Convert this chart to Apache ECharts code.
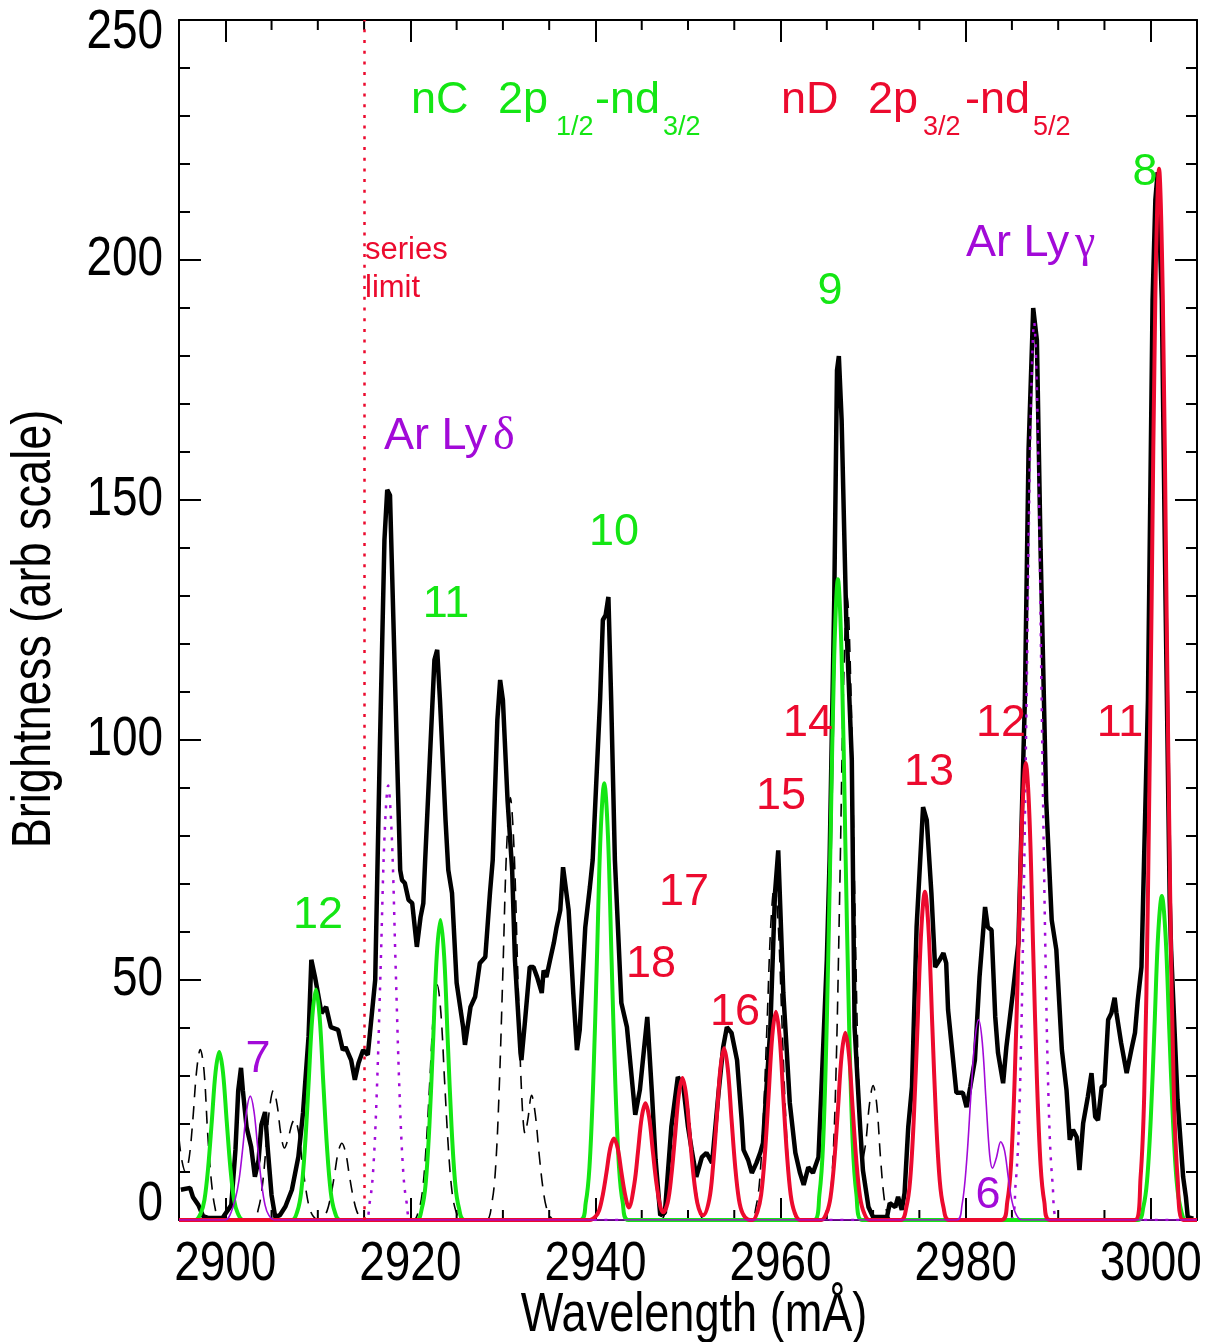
<!DOCTYPE html>
<html>
<head>
<meta charset="utf-8">
<script src="https://cdn.jsdelivr.net/npm/echarts@6/dist/echarts.min.js"></script>
<style>
  html, body { margin: 0; padding: 0; background: #fff; }
  #chart { width: 1205px; height: 1342px; }
</style>
</head>
<body>
<div id="chart"></div>
<script>
// x axis tick values (mÅ)
const majorTicksX = [2900, 2920, 2940, 2960, 2980, 3000]
const minorTicksX = [2905, 2910, 2915, 2925, 2930, 2935, 2945, 2950, 2955, 2965, 2970, 2975,
  2985, 2990, 2995]
// y axis tick labels
const ticksY = [0, 50, 100, 150, 200, 250]
// series limit wavelength
const seriesLimit = 2915

// measured spectrum (black)
const measured = [
  [2895.2, 6.3], [2896.2, 6.7], [2896.5, 4.8], [2897.1, 3.1], [2897.6, 0.8], [2898.2, 0.4], [2899.7, 0.4],
  [2900.65, 3.1], [2901.1, 14.6], [2901.4, 27], [2901.7, 31.7], [2901.9, 27], [2902.3, 19.4], [2902.8, 15.2],
  [2903.2, 9], [2903.6, 12.5], [2903.9, 19.8], [2904.3, 22.5], [2904.6, 14.6], [2905.0, 5.2], [2905.4, 0.6],
  [2905.9, 1], [2906.5, 2.8], [2907.2, 6.3], [2907.9, 13.2], [2908.4, 22.3], [2909.0, 38.2], [2909.3, 54.2],
  [2909.7, 50.6], [2910.4, 43.1], [2910.9, 44.4], [2911.4, 40.2], [2912.2, 39.6], [2912.7, 35.4], [2913.0, 36],
  [2913.6, 33.3], [2914.0, 29.2], [2914.4, 32.7], [2914.9, 35.4], [2915.4, 34.4], [2916.2, 50], [2916.7, 97.9],
  [2917.2, 141.7], [2917.5, 152.1], [2917.8, 151], [2918.4, 108.3], [2918.9, 72.9], [2919.1, 70.8], [2919.4, 70.2],
  [2919.8, 66.7], [2920.2, 66], [2920.7, 56.9], [2921.1, 63.1], [2921.4, 66], [2921.6, 75], [2922.1, 95.8],
  [2922.6, 116.7], [2922.9, 118.8], [2923.2, 108.3], [2923.8, 83.3], [2924.1, 72.9], [2924.5, 68.1], [2925.0, 49.4],
  [2925.7, 40.2], [2925.9, 36.5], [2926.5, 44.4], [2927.0, 46.5], [2927.5, 53.5], [2928.1, 54.8], [2928.6, 68.1],
  [2928.9, 75], [2929.4, 104.2], [2929.7, 112.5], [2930.0, 108.3], [2930.5, 87.5], [2931.0, 72.9], [2931.3, 54.2],
  [2931.9, 34.8], [2932.0, 33.3], [2932.4, 41.7], [2932.9, 52.7], [2933.3, 52.7], [2933.7, 50.6], [2934.2, 47.3],
  [2934.4, 52], [2934.7, 50.6], [2935.1, 54.2], [2935.5, 57.7], [2935.8, 61], [2936.2, 64.6], [2936.5, 73.5],
  [2937.1, 64.6], [2937.6, 47.3], [2938.0, 35.4], [2938.3, 39.6], [2938.9, 61], [2939.4, 69.4], [2939.7, 75],
  [2940.5, 108.3], [2940.8, 125], [2941.1, 126], [2941.4, 129.8], [2941.7, 108.3], [2942.1, 75], [2942.8, 45.2],
  [2943.4, 40.2], [2944.3, 21.9], [2944.8, 27.1], [2945.6, 42.3], [2946.1, 26.5], [2946.5, 12.5], [2947.0, 1],
  [2947.5, 1.5], [2948.2, 19.4], [2948.9, 29.8], [2949.5, 27.7], [2950.0, 19.4], [2950.4, 14.6], [2950.9, 9],
  [2951.5, 13.1], [2952.0, 14], [2952.6, 11.9], [2953.3, 26.5], [2953.8, 36], [2954.2, 40.2], [2954.7, 39],
  [2955.3, 33.3], [2955.8, 20.8], [2956.0, 14.6], [2956.5, 12.5], [2956.9, 9.8], [2957.4, 11.9], [2957.8, 14],
  [2958.1, 16], [2958.9, 40.2], [2959.4, 68.1], [2959.75, 77], [2960.3, 47.3], [2961.0, 24.4], [2961.6, 14],
  [2962.1, 9.8], [2962.5, 7.3], [2963.0, 11], [2963.5, 9.8], [2964.1, 13.1], [2964.4, 26.5], [2965.0, 54.2],
  [2965.3, 75], [2965.8, 129], [2966.1, 177], [2966.3, 180], [2966.6, 166.7], [2967.1, 125], [2967.7, 95.8],
  [2968.0, 40.2], [2968.6, 19.4], [2968.9, 10.4], [2969.5, 2.7], [2970.0, 0.6], [2971.5, 0.6], [2971.8, 3.5],
  [2972.4, 2.7], [2972.7, 4.8], [2973.1, 2.1], [2973.4, 5.6], [2973.8, 19.4], [2974.2, 27.7], [2974.7, 61],
  [2975.4, 86], [2975.8, 83.3], [2976.3, 68.1], [2976.7, 52.7], [2977.2, 54.2], [2977.6, 55.6], [2977.9, 53.5],
  [2978.1, 43.8], [2978.65, 33.3], [2979.0, 26.5], [2979.7, 26.5], [2980.1, 23.5], [2980.5, 27.7], [2981.0, 33.3],
  [2981.5, 50.6], [2982.1, 65.2], [2982.4, 61], [2982.8, 60.4], [2983.2, 42.3], [2983.5, 34.8], [2984.05, 28.5],
  [2984.4, 36], [2985.1, 47.3], [2985.7, 57.7], [2986.4, 108.3], [2986.8, 160.4], [2987.3, 190], [2987.7, 183.3],
  [2988.1, 139.6], [2988.7, 87.5], [2989.3, 62.5], [2989.8, 56.3], [2990.4, 35.4], [2990.9, 27.1], [2991.25, 16.7],
  [2991.6, 18.8], [2992.0, 17.3], [2992.3, 10.4], [2992.7, 20.2], [2993.2, 25.6], [2993.6, 30.6], [2994.0, 21.5],
  [2994.3, 20.8], [2994.7, 27.7], [2995.0, 28.1], [2995.4, 41.7], [2995.75, 43.1], [2996.1, 46.3], [2996.3, 43.1],
  [2996.8, 36.9], [2997.4, 30.6], [2997.9, 35.4], [2998.3, 39], [2998.6, 45.8], [2999.0, 52.7], [2999.7, 108.3],
  [3000.2, 191.7], [3000.5, 212.5], [3000.75, 218.3], [3001.2, 191.7], [3001.6, 129.2], [3002.05, 66.7],
  [3002.2, 56.3], [3002.9, 25], [3003.5, 9], [3003.8, 4.8], [3004.0, 0.6], [3004.6, 0.3]
]

// nC 2p1/2-nd3/2 model lines (green)
const nCLines = [
  [2895, 0], [2896.75, 0], [2897.35, 1.4], [2897.75, 4.2], [2898.15, 10.9], [2898.55, 20.7], [2898.95, 30.8],
  [2899.35, 35], [2899.75, 30.8], [2900.15, 20.7], [2900.55, 10.9], [2900.95, 4.2], [2901.35, 1.4], [2901.95, 0],
  [2907.2, 0], [2907.8, 1.9], [2908.2, 5.8], [2908.6, 14.9], [2909.0, 28.3], [2909.4, 42.2], [2909.8, 48],
  [2910.2, 42.2], [2910.6, 28.3], [2911.0, 14.9], [2911.4, 5.8], [2911.8, 1.9], [2912.4, 0],
  [2920.65, 0], [2921.25, 2.5], [2921.65, 7.5], [2922.05, 19.4], [2922.45, 36.9], [2922.85, 55], [2923.25, 62.5],
  [2923.65, 55], [2924.05, 36.9], [2924.45, 19.4], [2924.85, 7.5], [2925.25, 2.5], [2925.85, 0],
  [2938.35, 0], [2938.95, 3.6], [2939.35, 10.9], [2939.75, 28.2], [2940.15, 53.7], [2940.55, 80.1], [2940.95, 91],
  [2941.35, 80.1], [2941.75, 53.7], [2942.15, 28.2], [2942.55, 10.9], [2942.95, 3.6], [2943.55, 0],
  [2963.6, 0], [2964.2, 5.3], [2964.6, 16], [2965.0, 41.4], [2965.4, 78.8], [2965.8, 117.5], [2966.2, 133.5],
  [2966.6, 117.5], [2967.0, 78.8], [2967.4, 41.4], [2967.8, 16], [2968.2, 5.3], [2968.8, 0],
  [2998.6, 0], [2999.2, 2.7], [2999.6, 8.1], [3000.0, 20.9], [3000.4, 39.8], [3000.8, 59.4], [3001.2, 67.5],
  [3001.6, 59.4], [3002.0, 39.8], [3002.4, 20.9], [3002.8, 8.1], [3003.2, 2.7], [3003.8, 0], [3005, 0]
]

// nD 2p3/2-nd5/2 model lines (red)
const nDLines = [
  [2895, 0], [2939.4, 0], [2940.0, 0.7], [2940.4, 2], [2940.8, 5.3], [2941.2, 10], [2941.6, 15], [2942.0, 17],
  [2942.4, 15], [2942.8, 10], [2943.2, 5.3], [2943.6, 2.6], [2944.2, 7.5], [2944.6, 14.3], [2945.0, 21.4],
  [2945.4, 24.3], [2945.8, 21.4], [2946.2, 14.3], [2946.6, 7.5], [2947.0, 2.9], [2947.3, 1.6], [2947.8, 3.6],
  [2948.2, 9.2], [2948.6, 17.5], [2949.0, 26], [2949.4, 29.6], [2949.8, 26], [2950.2, 17.5], [2950.6, 9.2],
  [2951.0, 3.6], [2951.4, 1.2], [2951.65, 1.0], [2952.3, 4.3], [2952.7, 11.1], [2953.1, 21.1], [2953.5, 31.5],
  [2953.9, 35.8], [2954.3, 31.5], [2954.7, 21.1], [2955.1, 11.1], [2955.5, 4.3], [2955.9, 1.4], [2956.5, 0.1],
  [2957.0, 0], [2957.5, 1.7], [2957.9, 5.2], [2958.3, 13.5], [2958.7, 25.6], [2959.1, 38.2], [2959.5, 43.4],
  [2959.9, 38.2], [2960.3, 25.6], [2960.7, 13.5], [2961.1, 5.2], [2961.5, 1.7], [2962.1, 0],
  [2964.4, 0], [2965.0, 1.6], [2965.4, 4.7], [2965.8, 12.1], [2966.2, 23], [2966.6, 34.3], [2967.0, 39],
  [2967.4, 34.3], [2967.8, 23], [2968.2, 12.1], [2968.6, 4.7], [2969.0, 1.6], [2969.6, 0],
  [2973.0, 0], [2973.6, 2.7], [2974.0, 8.2], [2974.4, 21.2], [2974.8, 40.4], [2975.2, 60.2], [2975.6, 68.4],
  [2976.0, 60.2], [2976.4, 40.4], [2976.8, 21.2], [2977.2, 8.2], [2977.6, 2.7], [2978.2, 0],
  [2983.9, 0], [2984.5, 3.8], [2984.9, 11.4], [2985.3, 29.5], [2985.7, 56.2], [2986.1, 83.8], [2986.5, 95.2],
  [2986.9, 83.8], [2987.3, 56.2], [2987.7, 29.5], [2988.1, 11.4], [2988.5, 3.8], [2989.1, 0],
  [2998.3, 0], [2998.9, 8.8], [2999.3, 26.3], [2999.7, 67.9], [3000.1, 129.2], [3000.5, 192.7], [3000.9, 219],
  [3001.3, 192.7], [3001.7, 129.2], [3002.1, 67.9], [3002.5, 26.3], [3002.9, 8.8], [3003.5, 0], [3005, 0]
]

// Ar n=6,7 lines (purple, thin)
const arHighN = [
  [2895, 0], [2900.0, 0], [2900.5, 1], [2901.1, 4.5], [2901.5, 8.5], [2901.9, 15.2], [2902.3, 22.7], [2902.7, 25.8],
  [2903.1, 22.7], [2903.5, 15.2], [2903.9, 8], [2904.3, 3.1], [2904.7, 1], [2905.3, 0],
  [2979.0, 0], [2979.6, 3], [2980.1, 12], [2980.6, 27], [2981.0, 37.5], [2981.4, 41.7], [2981.8, 37], [2982.2, 25],
  [2982.6, 13.5], [2982.9, 10.8], [2983.3, 12.8], [2983.8, 16.3], [2984.2, 14.5], [2984.6, 9], [2985.0, 4],
  [2985.5, 1], [2986.1, 0], [3005, 0]
]

// Ar Ly delta / Ly gamma (purple, dotted)
const arLyman = [
  [2895, 0], [2915.0, 0], [2915.6, 3.6], [2916.0, 10.9], [2916.4, 28.1], [2916.8, 53.4], [2917.2, 79.6],
  [2917.6, 90.5], [2918.0, 79.6], [2918.4, 53.4], [2918.8, 28.1], [2919.2, 10.9], [2919.6, 3.6], [2920.2, 0],
  [2984.8, 0], [2985.4, 7.5], [2985.8, 22.4], [2986.2, 58], [2986.6, 110.3], [2987.0, 164.6], [2987.4, 187],
  [2987.8, 164.6], [2988.2, 110.3], [2988.6, 58], [2989.0, 22.4], [2989.4, 7.5], [2990.0, 0], [3005, 0]
]

// other lines (black, dashed)
const otherLines = [
  [2895, 17], [2895.3, 12.5], [2895.7, 10], [2896.1, 13], [2896.5, 21], [2896.9, 31], [2897.3, 35.5],
  [2897.7, 31.2], [2898.1, 18], [2898.5, 8], [2898.9, 2.5], [2899.4, 0],
  [2903.0, 0], [2903.6, 2.5], [2904.0, 7], [2904.4, 15], [2904.8, 23.5], [2905.2, 27], [2905.6, 24], [2906.0, 18],
  [2906.4, 15], [2906.8, 17], [2907.2, 20], [2907.5, 21], [2907.9, 18.5], [2908.3, 12.4], [2908.7, 6.5],
  [2909.1, 2.5], [2909.5, 0.8], [2910.1, 0],
  [2910.6, 0.6], [2911.0, 1.9], [2911.4, 5], [2911.8, 9.4], [2912.2, 14.1], [2912.6, 16], [2913.0, 14.1],
  [2913.4, 9.4], [2913.8, 5], [2914.2, 1.9], [2914.6, 0.6], [2915.2, 0],
  [2920.3, 0], [2920.9, 2], [2921.3, 5.9], [2921.7, 15.2], [2922.1, 28.9], [2922.5, 43.1], [2922.9, 49],
  [2923.3, 43.1], [2923.7, 28.9], [2924.1, 15.2], [2924.5, 5.9], [2924.9, 2], [2925.5, 0],
  [2928.2, 0], [2928.8, 3.5], [2929.2, 10.6], [2929.6, 27.3], [2930.0, 51.9], [2930.4, 77.4], [2930.8, 88],
  [2931.2, 77.4], [2931.6, 51.9], [2932.0, 27.3], [2932.4, 18], [2932.7, 21], [2933.1, 26], [2933.5, 22],
  [2933.9, 14], [2934.3, 7], [2934.7, 2.6], [2935.2, 0.5], [2935.6, 0],
  [2947.0, 0], [2947.6, 2.4], [2948.0, 7.3], [2948.4, 15.6], [2948.8, 23.8], [2949.2, 27.7], [2949.6, 27],
  [2950.0, 23.8], [2950.4, 15.6], [2950.8, 7.3], [2951.2, 2.4], [2951.8, 0],
  [2956.75, 0], [2957.35, 2.8], [2957.75, 8.4], [2958.15, 21.7], [2958.55, 41.3], [2958.95, 61.6], [2959.35, 70],
  [2959.75, 61.6], [2960.15, 41.3], [2960.55, 21.7], [2960.95, 8.4], [2961.35, 2.8], [2961.95, 0],
  [2964.8, 0], [2965.2, 2.5], [2965.6, 10.3], [2966.0, 31.2], [2966.4, 68.9], [2966.8, 110.9], [2967.2, 130],
  [2967.6, 110.9], [2968.0, 68.9], [2968.4, 31.2], [2968.8, 12], [2969.2, 16], [2969.6, 24], [2970.0, 28],
  [2970.4, 24], [2970.8, 13], [2971.2, 4.5], [2971.6, 1], [2972.1, 0], [3005, 0]
]

// line identification labels
const nCNumbers = ['12', '11', '10', '9', '8']
const nDNumbers = ['18', '17', '16', '15', '14', '13', '12', '11']
const arNumbers = ['7', '6']

const GREEN = '#14e614'
const RED = '#ec0a2e'
const PURPLE = '#a20ad8'
const SANS = '"Liberation Sans", Arial, sans-serif'
const SERIF = '"Liberation Serif", "Times New Roman", serif'
// IDL axis font is narrower than Helvetica
const AXIS_SQUEEZE = 0.82

const chart = echarts.init(document.getElementById('chart'))

const gridRect = { left: 179, right: 8, top: 20, bottom: 122, outerBoundsMode: 'none' }
function tickLine() { return { color: '#000', width: 2 } }

function xTickAxis(grid, pos, len, line) {
  return {
    gridIndex: grid, type: 'value', position: pos, min: 2895, max: 3005,
    axisLine: { show: line, onZero: false, lineStyle: tickLine() },
    axisTick: { show: len > 0, inside: true, length: Math.max(len, 1), lineStyle: tickLine(), customValues: majorTicksX },
    axisLabel: { show: false },
    splitLine: { show: false }
  }
}
function yTickAxis(pos) {
  return {
    gridIndex: 0, type: 'value', position: pos, min: 0, max: 250, interval: 50,
    axisLine: { show: true, lineStyle: tickLine() },
    axisTick: { show: true, inside: true, length: 22, lineStyle: tickLine() },
    minorTick: { show: true, splitNumber: 5, length: 11, lineStyle: tickLine() },
    splitLine: { show: false },
    axisLabel: { show: false }
  }
}

// short x ticks every 5 mÅ, top and bottom, placed through the x scale
function renderMinorTick(params, api) {
  const bottom = api.coord([api.value(0), 0])
  const top = api.coord([api.value(0), 250])
  const st = { stroke: '#000', lineWidth: 2 }
  return {
    type: 'group',
    children: [
      { type: 'line', shape: { x1: bottom[0], y1: bottom[1], x2: bottom[0], y2: bottom[1] - 10 }, style: st },
      { type: 'line', shape: { x1: top[0], y1: top[1], x2: top[0], y2: top[1] + 10 }, style: st }
    ]
  }
}

const option = {
  animation: false,
  backgroundColor: '#fff',
  grid: [Object.assign({}, gridRect), Object.assign({}, gridRect)],
  xAxis: [
    xTickAxis(0, 'bottom', 0, true),
    xTickAxis(0, 'top', 0, true),
    xTickAxis(1, 'bottom', 22, false),
    xTickAxis(1, 'top', 22, false)
  ],
  yAxis: [
    yTickAxis('left'),
    yTickAxis('right'),
    { gridIndex: 1, type: 'value', min: 0, max: 250, show: false }
  ],
  series: [
    {
      name: 'minor ticks', type: 'custom', xAxisIndex: 0, yAxisIndex: 0, silent: true, z: 1,
      data: minorTicksX.map(v => [v]),
      renderItem: renderMinorTick
    },
    {
      name: 'other lines', type: 'line', xAxisIndex: 0, yAxisIndex: 0, data: otherLines,
      showSymbol: false, smooth: 0.35, silent: true,
      lineStyle: { color: '#000', width: 1.6, type: [13, 9] }
    },
    {
      name: 'measured', type: 'line', xAxisIndex: 0, yAxisIndex: 0, data: measured,
      showSymbol: false, silent: true,
      lineStyle: { color: '#000', width: 4.5 },
      markLine: {
        silent: true, symbol: ['none', 'none'], label: { show: false },
        lineStyle: { color: RED, width: 2.5, type: [3, 7.7] },
        data: [{ xAxis: seriesLimit }]
      }
    },
    {
      name: 'Ar Lyman', type: 'line', xAxisIndex: 0, yAxisIndex: 0, data: arLyman,
      showSymbol: false, smooth: 0.35, silent: true,
      lineStyle: { color: PURPLE, width: 2.5, type: [3, 7.7] }
    },
    {
      name: 'nC', type: 'line', xAxisIndex: 0, yAxisIndex: 0, data: nCLines,
      showSymbol: false, smooth: 0.35, silent: true,
      lineStyle: { color: GREEN, width: 4 }
    },
    {
      name: 'nD', type: 'line', xAxisIndex: 0, yAxisIndex: 0, data: nDLines,
      showSymbol: false, smooth: 0.35, silent: true,
      lineStyle: { color: RED, width: 4 }
    },
    {
      name: 'Ar n', type: 'line', xAxisIndex: 0, yAxisIndex: 0, data: arHighN,
      showSymbol: false, smooth: 0.35, silent: true,
      lineStyle: { color: PURPLE, width: 1.6 }
    }
  ]
}

chart.setOption(option)

// ---- texts: tick labels, axis titles and annotations ----
function txt(x, y, text, color, size, align, extra, family) {
  return Object.assign({
    type: 'text', x: x, y: y, z: 100, silent: true,
    style: {
      text: text, fill: color, font: size + 'px ' + (family || SANS),
      align: align || 'center', verticalAlign: 'middle'
    }
  }, extra || {})
}

const graphics = []
const plotBottom = chart.convertToPixel({ yAxisIndex: 0 }, 0)
const plotLeft = chart.convertToPixel({ xAxisIndex: 0 }, 2895)

// x tick labels
majorTicksX.forEach(v => {
  const px = chart.convertToPixel({ xAxisIndex: 0 }, v)
  graphics.push(txt(px, plotBottom + 45, String(v), '#000', 56, 'center', { scaleX: AXIS_SQUEEZE }))
})
// y tick labels (IDL nudges the end labels inward)
ticksY.forEach(v => {
  let py = chart.convertToPixel({ yAxisIndex: 0 }, v)
  if (v === 250) py += 13
  if (v === 0) py -= 15
  graphics.push(txt(plotLeft - 16, py, String(v), '#000', 56, 'right', { scaleX: AXIS_SQUEEZE }))
})
// axis titles
graphics.push(txt(694, 1316, 'Wavelength (m\u00c5)', '#000', 55, 'center', { scaleX: AXIS_SQUEEZE }))
graphics.push(txt(35, 629, 'Brightness (arb scale)', '#000', 55, 'center',
  { scaleX: AXIS_SQUEEZE, rotation: Math.PI / 2 }))

// line numbers
const nCPos = [[318, 916], [446, 605], [614, 533], [830, 292], [1145, 173]]
const nDPos = [[651, 965], [684, 893], [735, 1013], [781, 797], [808, 724], [929, 773], [1001, 724], [1120, 724]]
const arPos = [[258, 1060], [988, 1196]]
nCNumbers.forEach((t, i) => graphics.push(txt(nCPos[i][0], nCPos[i][1], t, GREEN, 45)))
nDNumbers.forEach((t, i) => graphics.push(txt(nDPos[i][0], nDPos[i][1], t, RED, 45)))
arNumbers.forEach((t, i) => graphics.push(txt(arPos[i][0], arPos[i][1], t, PURPLE, 45)))

// series headers
graphics.push(txt(411, 101, 'nC', GREEN, 45, 'left'))
graphics.push(txt(498, 101, '2p', GREEN, 45, 'left'))
graphics.push(txt(556, 128, '1/2', GREEN, 27, 'left'))
graphics.push(txt(595, 101, '-nd', GREEN, 45, 'left'))
graphics.push(txt(663, 128, '3/2', GREEN, 27, 'left'))
graphics.push(txt(781, 101, 'nD', RED, 45, 'left'))
graphics.push(txt(868, 101, '2p', RED, 45, 'left'))
graphics.push(txt(923, 128, '3/2', RED, 27, 'left'))
graphics.push(txt(965, 101, '-nd', RED, 45, 'left'))
graphics.push(txt(1033, 128, '5/2', RED, 27, 'left'))
graphics.push(txt(365, 250, 'series', RED, 31, 'left'))
graphics.push(txt(365, 288, 'limit', RED, 31, 'left'))
graphics.push(txt(384, 437, 'Ar Ly', PURPLE, 45, 'left'))
graphics.push(txt(493, 437, '\u03b4', PURPLE, 46, 'left', null, SERIF))
graphics.push(txt(966, 244, 'Ar Ly', PURPLE, 45, 'left'))
graphics.push(txt(1075, 244, '\u03b3', PURPLE, 46, 'left', null, SERIF))

chart.setOption({ graphic: graphics })
</script>
</body>
</html>
